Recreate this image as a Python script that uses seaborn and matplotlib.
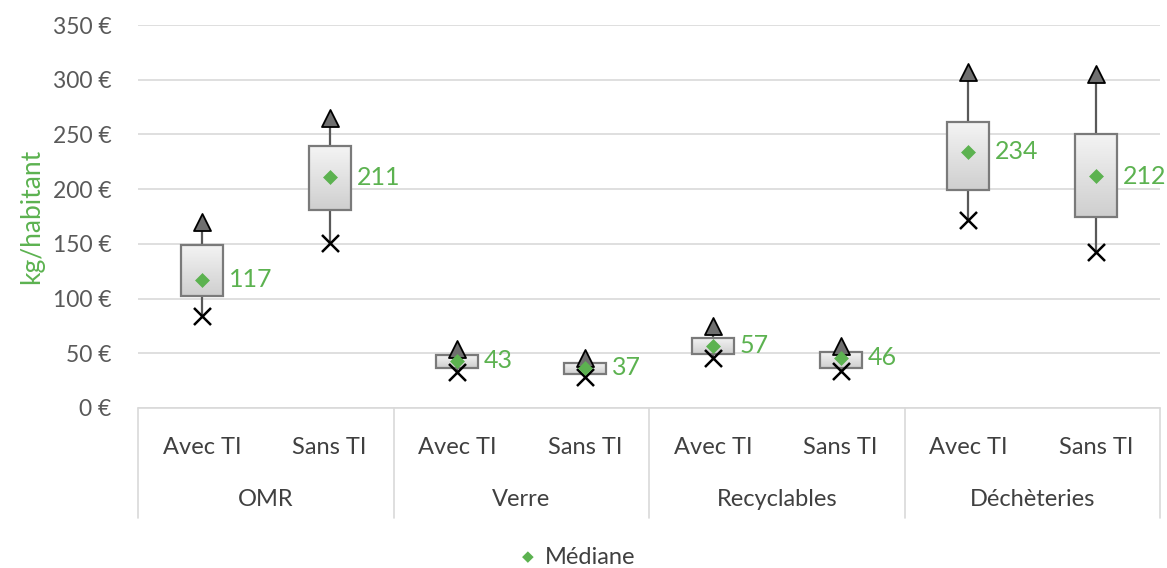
import numpy as np
import pandas as pd
import matplotlib
matplotlib.use("Agg")
import matplotlib.pyplot as plt
import seaborn as sns
from matplotlib.colors import LinearSegmentedColormap

groups = ["OMR", "Verre", "Recyclables", "Déchèteries"]
subgroups = ["Avec TI", "Sans TI"]
mins = [84, 151, 33, 28, 46, 34, 172, 143]
q1 = [102, 181, 37, 31, 49, 37, 199, 175]
q3 = [149, 239, 48, 41, 64, 51, 261, 250]
maxs = [170, 265, 54, 46, 75, 57, 307, 305]
medians = [117, 211, 43, 37, 57, 46, 234, 212]
yticks = [0, 50, 100, 150, 200, 250, 300, 350]

GREEN = "#5cb250"
FONT = "Lato"

sns.set_theme(style="white")
plt.rcParams["font.family"] = [FONT, "DejaVu Sans"]

fig = plt.figure(figsize=(11.67, 5.68), dpi=100)
ax = fig.add_axes([138 / 1167, 1 - 408 / 568, (1160 - 138) / 1167, (408 - 25) / 568])

n = len(medians)
xs = np.arange(n)
df = pd.DataFrame({"x": xs, "min": mins, "q1": q1, "q3": q3, "max": maxs, "med": medians})

# gridlines
for t in yticks:
    ax.axhline(t, color="#d9d9d9", lw=1.2, zorder=0)

# boxes with whiskers
stats = [dict(med=m, q1=a, q3=b, whislo=lo, whishi=hi, fliers=[])
         for m, a, b, lo, hi in zip(medians, q1, q3, mins, maxs)]
bp = ax.bxp(stats, positions=xs, widths=0.33, showfliers=False, showcaps=False,
            patch_artist=True, manage_ticks=False,
            boxprops=dict(facecolor="#e8e8e8", edgecolor="#7a7a7a", linewidth=1.6),
            whiskerprops=dict(color="#595959", linewidth=1.6),
            medianprops=dict(visible=False), zorder=2)

# gradient fill inside boxes
grad = np.linspace(0, 1, 64).reshape(-1, 1)
cmap = LinearSegmentedColormap.from_list("g", ["#f4f4f4", "#cfcfcf"])
for i, patch in enumerate(bp["boxes"]):
    im = ax.imshow(grad, cmap=cmap, aspect="auto",
                   extent=[i - 0.165, i + 0.165, q1[i], q3[i]], origin="upper",
                   zorder=2.1)
    im.set_clip_path(patch)
    patch.set_zorder(2.2)
    patch.set_facecolor("none")

# markers via seaborn
sns.scatterplot(data=df, x="x", y="max", marker="^", s=150, color="#6f6f6f",
                edgecolor="black", linewidth=1.3, ax=ax, zorder=4, legend=False)
sns.scatterplot(data=df, x="x", y="min", marker="x", s=150, color="black",
                linewidth=1.8, ax=ax, zorder=4, legend=False)
sns.scatterplot(data=df, x="x", y="med", marker="D", s=50, color=GREEN,
                edgecolor=GREEN, linewidth=0.5, ax=ax, zorder=5, legend=False)

for x, m in zip(xs, medians):
    ax.text(x + 0.21, m, f"{m}", color=GREEN, fontsize=18, va="center", ha="left",
            zorder=6)

ax.set_xlim(-0.5, n - 0.5)
ax.set_ylim(0, 350)
ax.set_yticks(yticks)
ax.set_yticklabels([f"{t} €" for t in yticks], color="#595959", fontsize=16.5)
ax.tick_params(axis="y", length=0, pad=19)
ax.set_xticks([])
ax.set_xlabel("")
ax.set_ylabel("kg/habitant", color=GREEN, fontsize=19, labelpad=6)
for s in ax.spines.values():
    s.set_visible(False)

# two-level category axis
tr = ax.get_xaxis_transform()
h = 383.0
ax.plot([-0.5, n - 0.5], [0, 0], transform=tr, color="#d9d9d9", lw=1.2, clip_on=False)
for b in [-0.5, 1.5, 3.5, 5.5, 7.5]:
    ax.plot([b, b], [0, -(518 - 408) / h], transform=tr, color="#d9d9d9", lw=1.2,
            clip_on=False)
for i in range(n):
    ax.text(i, -(447 - 408) / h, subgroups[i % 2], transform=tr, ha="center",
            va="center", fontsize=17, color="#404040")
for g, name in enumerate(groups):
    ax.text(2 * g + 0.5, -(500 - 408) / h, name, transform=tr, ha="center",
            va="center", fontsize=17, color="#404040")

# legend
fig.text(528 / 1167, 1 - 557 / 568, "◆", color=GREEN, fontsize=11, ha="center",
         va="center", family=["DejaVu Sans"])
fig.text(545 / 1167, 1 - 557 / 568, "Médiane", color="#404040", fontsize=17,
         ha="left", va="center")

fig.savefig("out.png", dpi=100)
